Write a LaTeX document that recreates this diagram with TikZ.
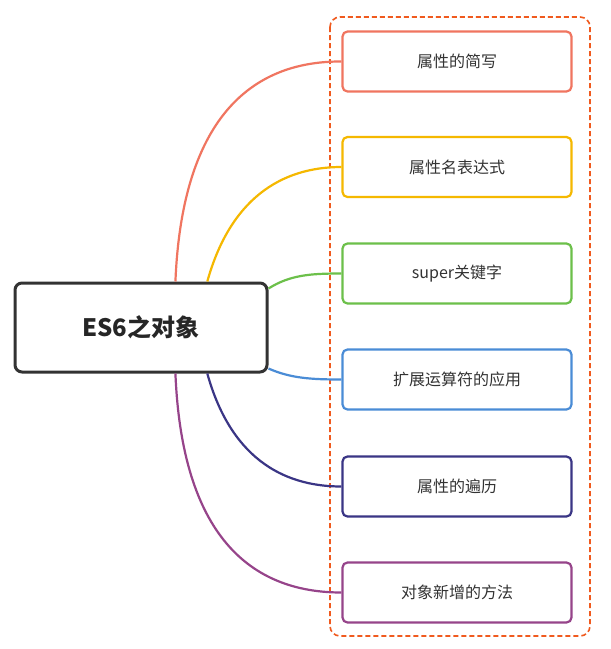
\documentclass[tikz,border=0pt]{standalone}
\usepackage{fontspec}
\newfontfamily\cjk{Noto Sans CJK SC}
\usetikzlibrary{calc}
\definecolor{cA}{HTML}{F07560}
\definecolor{cB}{HTML}{F5B800}
\definecolor{cC}{HTML}{6CC04A}
\definecolor{cD}{HTML}{4A8CD6}
\definecolor{cE}{HTML}{3A3585}
\definecolor{cF}{HTML}{96448A}
\definecolor{cO}{HTML}{F05A1E}
\tikzset{
  child/.style={draw=#1, line width=2.2pt, rounded corners=5pt, minimum width=229pt, minimum height=60pt, font=\cjk\fontsize{16}{18}\selectfont, text=black!80, fill=white},
  link/.style={draw=#1, line width=2.2pt},
}
\begin{document}
\begin{tikzpicture}[x=1pt,y=-1pt]
\useasboundingbox (0,0) rectangle (611,649);
\fill[white] (0,0) rectangle (611,649);
\draw[cO, line width=1.6pt, dashed, dash pattern=on 5pt off 3pt, rounded corners=10pt] (330,17) rectangle (590,636);
\node[draw=black!80, line width=3pt, rounded corners=7pt, minimum width=252pt, minimum height=89pt, font=\cjk\bfseries\fontsize{24}{28}\selectfont, text=black!85] (c) at (141,327.5) {ES6之对象};
\node[child=cA] (a) at (457,61.5) {属性的简写};
\node[child=cB] (b) at (457,167) {属性名表达式};
\node[child=cC] (d) at (457,273.5) {super关键字};
\node[child=cD] (e) at (457,379.5) {扩展运算符的应用};
\node[child=cE] (f) at (457,486.5) {属性的遍历};
\node[child=cF] (g) at (457,592.5) {对象新增的方法};
\coordinate (sa) at ($(c.north west)!0.635!(c.north east)$);
\coordinate (sb) at ($(c.north west)!0.76!(c.north east)$);
\coordinate (sf) at ($(c.south west)!0.76!(c.south east)$);
\coordinate (sg) at ($(c.south west)!0.635!(c.south east)$);
\coordinate (sd) at ($(c.north east)+(0,7)$);
\coordinate (se) at ($(c.south east)+(0,-5)$);
\begin{scope}[on background layer/.style={}]
\draw[link=cA] (sa) .. controls (182,120) and (250,61) .. (a.west);
\draw[link=cB] (sb) .. controls (230,200) and (280,167) .. (b.west);
\draw[link=cC] (sd) .. controls (290,275) and (310,273.5) .. (d.west);
\draw[link=cD] (se) .. controls (290,378) and (310,379.5) .. (e.west);
\draw[link=cE] (sf) .. controls (230,455) and (280,486.5) .. (f.west);
\draw[link=cF] (sg) .. controls (182,535) and (250,592.5) .. (g.west);
\end{scope}
\end{tikzpicture}
\end{document}
